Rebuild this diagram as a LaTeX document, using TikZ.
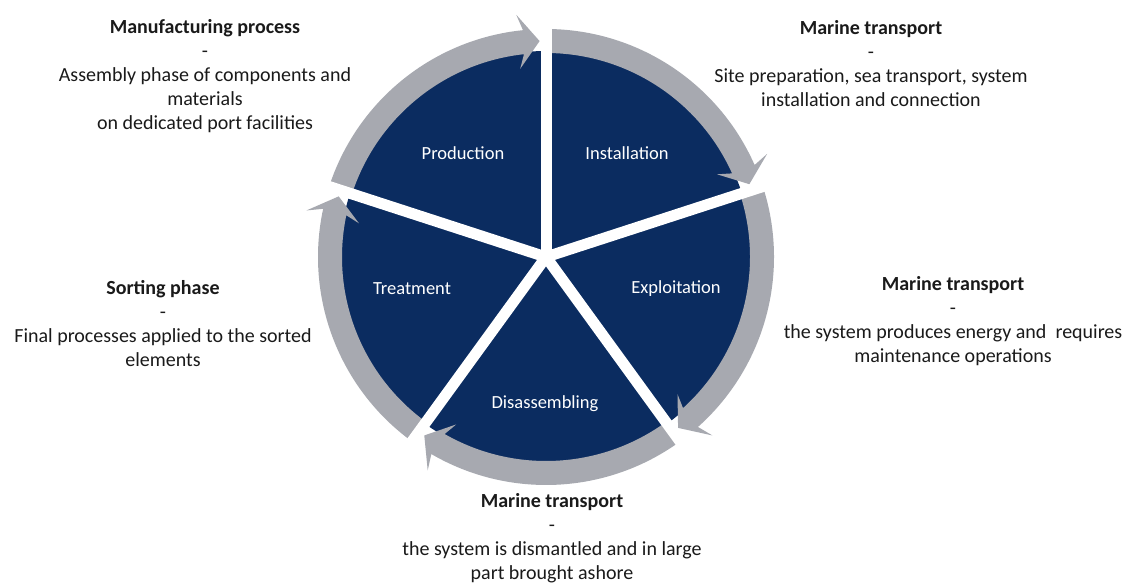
\documentclass[tikz,border=0pt]{standalone}
\usepackage{fontspec}
\setmainfont{Carlito}
\definecolor{navy}{HTML}{0B2C60}
\definecolor{ringgray}{HTML}{A7A9B0}
\definecolor{txt}{HTML}{1A1A1A}
\newcommand\ringarrow[2]{%
  \fill[ringgray] (#1:228) arc[start angle=#1, end angle={#2+5.8}, radius=228]
    -- ({#2+7}:244) -- ({#2+1.7}:216) -- ({#2+7.8}:190) -- ({#2+6.2}:204)
    arc[start angle={#2+6.2}, end angle=#1, radius=204] -- cycle;}
\tikzset{
  outer/.style={align=center, text=txt, font=\fontsize{20}{24}\selectfont},
  inner/.style={text=white, font=\fontsize{18.5}{22}\selectfont},
}
\begin{document}
\begin{tikzpicture}[x=1pt,y=1pt]
\useasboundingbox (0,0) rectangle (1128,-585);
\fill[white] (0,0) rectangle (1128,-585);
\begin{scope}[shift={(546,-257)}]
  \fill[navy] (0,0) circle[radius=206];
  \ringarrow{162}{90}
  \ringarrow{90}{18}
  \ringarrow{18}{-54}
  \ringarrow{-54}{-126}
  \ringarrow{234}{162}
  \foreach \a in {90,18,-54,-126,162}
    \draw[white, line width=11pt] (0,0) -- (\a:255);
\end{scope}
\node[inner] (prod) at (463,-153) {Production};
\node[inner] (inst) at (627,-153) {Installation};
\node[inner] (treat) at (412,-289) {Treatment};
\node[inner] (expl) at (676,-289) {Exploitation};
\node[inner] (dis) at (545,-404) {Disassembling};
\node[outer] (manuf) at (205,-76) {\textbf{Manufacturing process}\\-\\Assembly phase of components and\\materials\\on dedicated port facilities};
\node[outer] (mt1) at (871,-64) {\textbf{Marine transport}\\-\\Site preparation, sea transport, system\\installation and connection};
\node[outer] (mt2) at (953,-321) {\textbf{Marine transport}\\-\\the system produces energy and\ \ requires\\maintenance operations};
\node[outer] (sort) at (163,-324) {\textbf{Sorting phase}\\-\\Final processes applied to the sorted\\elements};
\node[outer] (mt3) at (552,-538) {\textbf{Marine transport}\\-\\the system is dismantled and in large\\part brought ashore};
\end{tikzpicture}
\end{document}
